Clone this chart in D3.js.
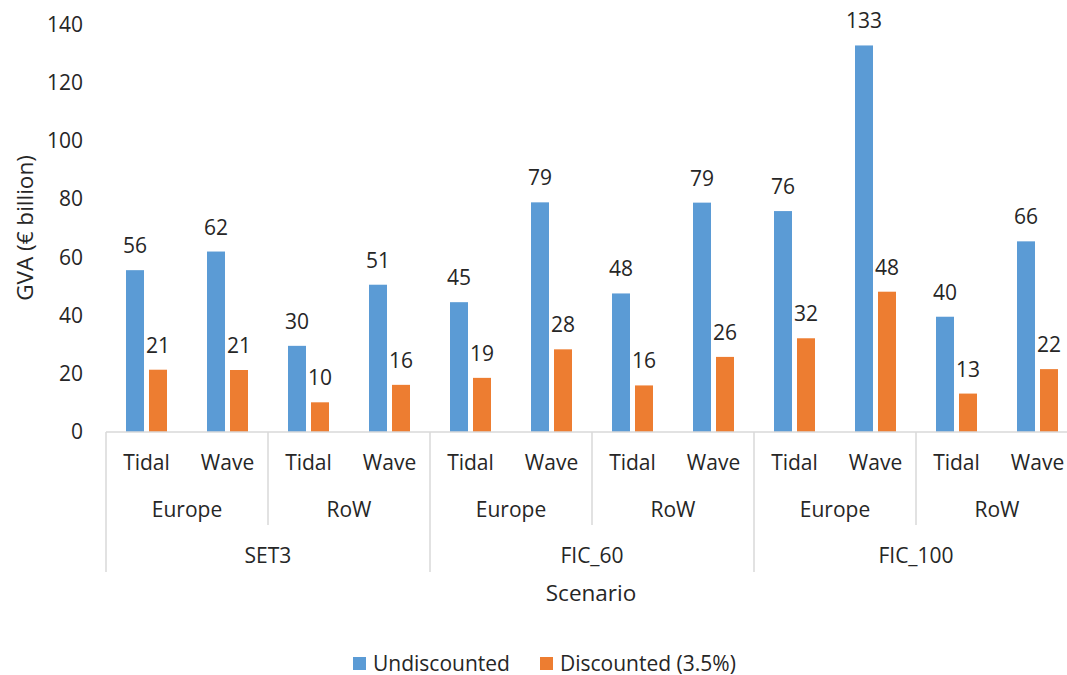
<!DOCTYPE html>
<html>
<head>
<meta charset="utf-8">
<script src="https://cdn.jsdelivr.net/npm/d3@7"></script>
<style>
  body { margin: 0; background: #fff; }
  text { font-family: "Open Sans", sans-serif; fill: #262626; }
</style>
</head>
<body>
<div class="chart"></div>
<script>
// categories
const scenarios = ["SET3", "FIC_60", "FIC_100"];
const regions = ["Europe", "RoW"];
const techs = ["Tidal", "Wave"];
const seriesNames = ["Undiscounted", "Discounted (3.5%)"];
const yTicks = [0, 20, 40, 60, 80, 100, 120, 140];

// values, in category order (scenario > region > tech)
const undiscounted = [55.6, 62.0, 29.6, 50.6, 44.6, 78.9, 47.6, 78.8, 75.9, 132.8, 39.6, 65.5];
const discounted = [21.4, 21.3, 10.2, 16.2, 18.6, 28.4, 16.0, 25.8, 32.2, 48.2, 13.2, 21.6];

const width = 1067;
const height = 675;
const colors = ["#5B9BD5", "#ED7D31"];
const fs = 21;

//builds the flat category rows
const rows = [];
scenarios.forEach(s => regions.forEach(r => techs.forEach(t => {
    const i = rows.length;
    rows.push({id: s + "|" + r + "|" + t, scenario: s, region: r, tech: t,
        values: [undiscounted[i], discounted[i]]});
})));

const svg = d3.select(".chart")
    .append("svg")
    .attr("width", width)
    .attr("height", height);

const x = d3.scaleBand()
    .domain(rows.map(d => d.id))
    .range([106, 1078]);

const xs = d3.scaleBand()
    .domain([0, 1])
    .range([0, x.bandwidth()])
    .paddingInner(5 / 23)
    .paddingOuter(0.87);

const y = d3.scaleLinear()
    .domain([0, 140])
    .range([432, 24.5]);

//y axis labels
const yAxis = d3.axisLeft(y).tickValues(yTicks).tickSize(0).tickPadding(0);
svg.append("g")
    .attr("transform", "translate(83,0)")
    .call(yAxis)
    .call(g => g.select(".domain").remove())
    .call(g => g.selectAll("text")
        .attr("font-size", fs)
        .attr("font-family", "Open Sans")
        .attr("fill", "#262626"));

svg.append("text")
    .attr("transform", "translate(33,228) rotate(-90)")
    .attr("text-anchor", "middle")
    .attr("font-size", 22.5)
    .text("GVA (€ billion)");

//bars
const groups = svg.selectAll(".cat")
    .data(rows)
    .enter()
    .append("g")
    .attr("class", "cat")
    .attr("transform", d => `translate(${x(d.id)},0)`);

groups.selectAll("rect")
    .data(d => d.values)
    .enter()
    .append("rect")
    .attr("x", (v, i) => xs(i))
    .attr("width", xs.bandwidth())
    .attr("y", v => y(v))
    .attr("height", v => y(0) - y(v))
    .attr("fill", (v, i) => colors[i]);

groups.selectAll("text.lbl")
    .data(d => d.values)
    .enter()
    .append("text")
    .attr("class", "lbl")
    .attr("x", (v, i) => xs(i) + xs.bandwidth() / 2)
    .attr("y", v => y(v) - 17)
    .attr("text-anchor", "middle")
    .attr("font-size", fs)
    .text(v => Math.round(v));

//category axis
const axisColor = "#d9d9d9";
svg.append("line")
    .attr("x1", 106).attr("x2", 1078)
    .attr("y1", y(0)).attr("y2", y(0))
    .attr("stroke", axisColor).attr("stroke-width", 1.5);

svg.selectAll("text.tech")
    .data(rows)
    .enter()
    .append("text")
    .attr("class", "tech")
    .attr("x", d => x(d.id) + x.bandwidth() / 2)
    .attr("y", 470)
    .attr("text-anchor", "middle")
    .attr("font-size", fs)
    .text(d => d.tech);

const regionRows = rows.filter(d => d.tech === techs[0]);
svg.selectAll("text.region")
    .data(regionRows)
    .enter()
    .append("text")
    .attr("class", "region")
    .attr("x", d => x(d.id) + x.bandwidth())
    .attr("y", 517)
    .attr("text-anchor", "middle")
    .attr("font-size", fs)
    .text(d => d.region);

const scenRows = rows.filter(d => d.tech === techs[0] && d.region === regions[0]);
svg.selectAll("text.scen")
    .data(scenRows)
    .enter()
    .append("text")
    .attr("class", "scen")
    .attr("x", d => x(d.id) + x.bandwidth() * 2)
    .attr("y", 563)
    .attr("text-anchor", "middle")
    .attr("font-size", fs)
    .text(d => d.scenario);

//separator lines
svg.selectAll("line.sep")
    .data(regionRows.concat([null]))
    .enter()
    .append("line")
    .attr("class", "sep")
    .attr("x1", d => d ? x(d.id) : 1078)
    .attr("x2", d => d ? x(d.id) : 1078)
    .attr("y1", y(0))
    .attr("y2", d => (!d || d.region === regions[0]) ? 572 : 525)
    .attr("stroke", axisColor)
    .attr("stroke-width", 1.5);

svg.append("text")
    .attr("x", 591)
    .attr("y", 601)
    .attr("text-anchor", "middle")
    .attr("font-size", 22.5)
    .text("Scenario");

//legend
const legendX = [353, 540];
const legend = svg.selectAll("g.legend")
    .data(seriesNames)
    .enter()
    .append("g")
    .attr("class", "legend")
    .attr("transform", (d, i) => `translate(${legendX[i]},657)`);

legend.append("rect")
    .attr("width", 13)
    .attr("height", 13)
    .attr("fill", (d, i) => colors[i]);

legend.append("text")
    .attr("x", 20)
    .attr("y", 13.5)
    .attr("font-size", fs)
    .text(d => d);
</script>
</body>
</html>
